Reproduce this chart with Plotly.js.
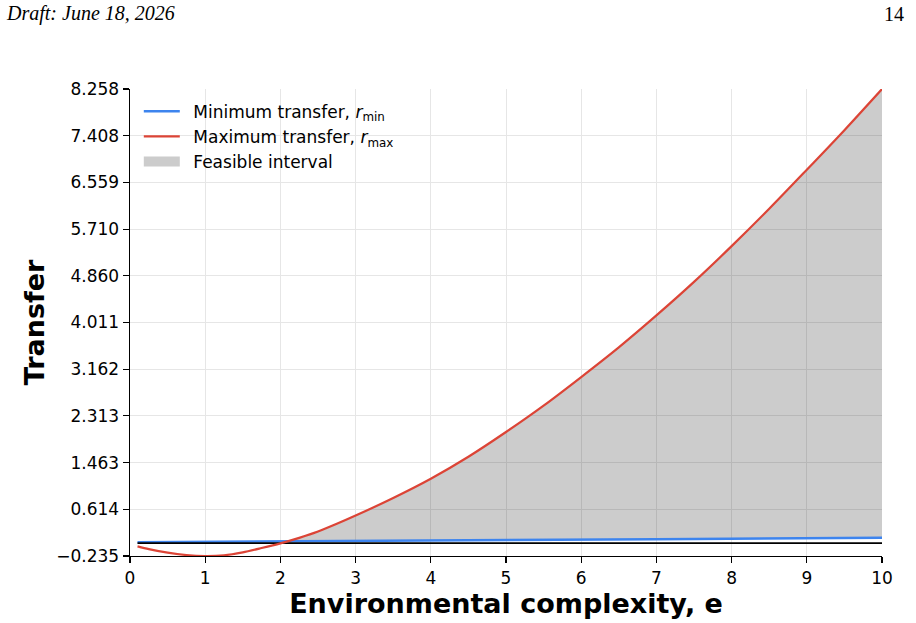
<!DOCTYPE html>
<html><head><meta charset="utf-8">
<script src="https://cdn.plot.ly/plotly-3.0.1.min.js"></script>
<style>html,body{margin:0;padding:0;background:#fff}</style>
</head><body><div id="chart" style="width:916px;height:623px"></div>
<script>
// Environmental complexity e (x) and transfer bounds (y)
const complexity = [0.1,0.25,0.5,0.75,1,1.25,1.5,1.75,2,2.25,2.5,2.75,3,3.5,4,4.5,5,5.5,6,6.5,7,7.5,8,8.5,9,9.5,10];
const rMax = [-0.06,-0.11,-0.175,-0.218,-0.235,-0.222,-0.168,-0.09,-0.005,0.095,0.21,0.35,0.5,0.82,1.17,1.57,2.02,2.5,3.02,3.56,4.14,4.75,5.4,6.08,6.79,7.51,8.258];
const rMin = [0.015,0.016,0.018,0.02,0.022,0.024,0.026,0.028,0.030,0.032,0.034,0.036,0.038,0.042,0.046,0.050,0.054,0.058,0.062,0.066,0.070,0.074,0.078,0.082,0.086,0.090,0.095];
const zeroX = [0.1, 10];
const zeroY = [0, 0];
const xTickVals = [0,1,2,3,4,5,6,7,8,9,10];
const yTickVals = [-0.235,0.614,1.463,2.313,3.162,4.011,4.860,5.710,6.559,7.408,8.258];
const yTickText = ['\u22120.235','0.614','1.463','2.313','3.162','4.011','4.860','5.710','6.559','7.408','8.258'];
const seriesNames = ['Minimum transfer, <i>r</i><sub>min</sub>','Maximum transfer, <i>r</i><sub>max</sub>','Feasible interval'];

// Build feasible polygon where rMax >= rMin (with interpolated crossing)
const fx = [], fTop = [], fBot = [];
for (let i = 0; i < complexity.length; i++) {
  const d = rMax[i] - rMin[i];
  if (i > 0) {
    const dp = rMax[i-1] - rMin[i-1];
    if ((dp < 0 && d >= 0) || (dp >= 0 && d < 0)) {
      const t = dp / (dp - d);
      const xc = complexity[i-1] + t * (complexity[i] - complexity[i-1]);
      const yc = rMin[i-1] + t * (rMin[i] - rMin[i-1]);
      fx.push(xc); fTop.push(yc); fBot.push(yc);
    }
  }
  if (d >= 0) { fx.push(complexity[i]); fTop.push(rMax[i]); fBot.push(rMin[i]); }
}
const polyX = fx.concat(fx.slice().reverse());
const polyY = fTop.concat(fBot.slice().reverse());

const pad = '\u2002';
const font = 'DejaVu Sans, sans-serif';
const traces = [
  {x: polyX, y: polyY, type: 'scatter', mode: 'lines', fill: 'toself',
   fillcolor: 'rgba(0,0,0,0.2)', line: {width: 0}, showlegend: false, hoverinfo: 'skip'},
  {x: complexity, y: rMin, type: 'scatter', mode: 'lines', line: {color: '#3d84ee', width: 2.5},
   name: pad + seriesNames[0], legendrank: 1},
  {x: zeroX, y: zeroY, type: 'scatter', mode: 'lines', line: {color: '#000000', width: 1.6},
   showlegend: false},
  {x: complexity, y: rMax, type: 'scatter', mode: 'lines', line: {color: '#dc4436', width: 2.2, shape: 'spline', smoothing: 0.8},
   name: pad + seriesNames[1], legendrank: 2},
  {x: [null], y: [null], type: 'scatter', mode: 'lines', line: {color: '#cccccc', width: 16},
   name: pad + seriesNames[2], legendrank: 3}
];

const layout = {
  width: 916, height: 623,
  margin: {l: 130, r: 34, t: 89, b: 67},
  paper_bgcolor: '#ffffff', plot_bgcolor: '#ffffff',
  font: {family: font, color: '#000000', size: 17},
  showlegend: true,
  legend: {x: 0.0117, y: 0.99, xanchor: 'left', yanchor: 'top', bgcolor: 'rgba(0,0,0,0)',
           font: {family: font, size: 17}, tracegroupgap: 0, itemwidth: 36},
  xaxis: {range: [0, 10], tickvals: xTickVals, ticks: 'outside', ticklen: 6, tickwidth: 1.2, tickcolor: '#000',
          showline: true, linecolor: '#000', linewidth: 1.4, showgrid: true, gridcolor: '#e6e6e6', gridwidth: 1,
          zeroline: false, tickfont: {family: font, size: 17},
          title: {text: '<b>Environmental complexity, e</b>', font: {family: font, size: 27}, standoff: 6}},
  yaxis: {range: [-0.235, 8.258], tickvals: yTickVals, ticktext: yTickText, ticks: 'outside', ticklen: 6, tickwidth: 1.2,
          tickcolor: '#000', showline: true, linecolor: '#000', linewidth: 1.4, showgrid: true, gridcolor: '#e6e6e6',
          gridwidth: 1, zeroline: false, tickfont: {family: font, size: 17},
          title: {text: '<b>Transfer</b>', font: {family: font, size: 27}, standoff: 4}},
  annotations: [
    {text: '<i>Draft: June 18, 2026</i>', xref: 'paper', yref: 'paper', x: -0.1676, y: 1.1606, xanchor: 'left', yanchor: 'middle',
     showarrow: false, font: {family: 'Liberation Serif, Times New Roman, serif', size: 20, color: '#000'}},
    {text: '14', xref: 'paper', yref: 'paper', x: 1.032, y: 1.1606, xanchor: 'right', yanchor: 'middle',
     showarrow: false, font: {family: 'Liberation Serif, Times New Roman, serif', size: 20, color: '#000'}}
  ]
};
Plotly.newPlot('chart', traces, layout, {staticPlot: true, displayModeBar: false});
</script></body></html>
